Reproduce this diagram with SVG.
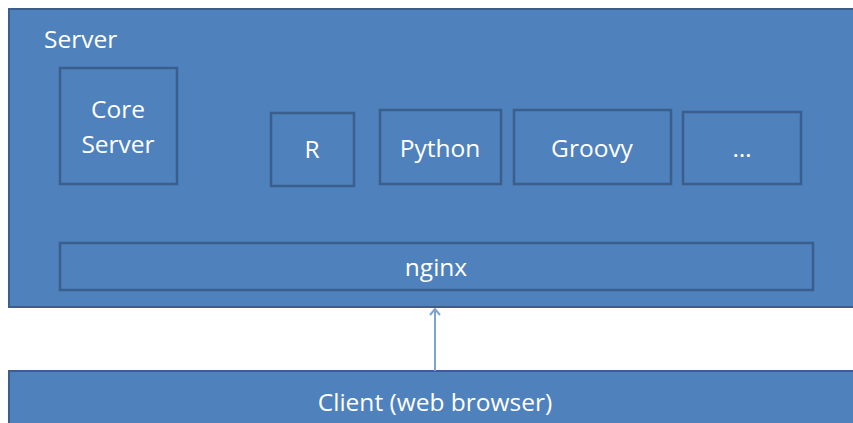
<svg xmlns="http://www.w3.org/2000/svg" width="853" height="423" viewBox="0 0 853 423">
<defs>
<style>
.box{fill:#4f81bd;stroke:#3a5f8c;stroke-width:2.5}
.outer{fill:#4f81bd;stroke:#3a5f8c;stroke-width:2}
.t{font-family:"Open Sans","Liberation Sans",sans-serif;font-size:24.5px;fill:#ffffff;text-anchor:middle}
.conn{stroke:#7aa3d6;stroke-width:2;fill:none}
</style>
<marker id="open" viewBox="0 0 12 12" refX="11" refY="6" markerWidth="12" markerHeight="12" markerUnits="userSpaceOnUse" orient="auto">
<path d="M5,1 L11,6 L5,11" fill="none" stroke="#7aa3d6" stroke-width="2"/>
</marker>
</defs>
<rect width="853" height="423" fill="#ffffff"/>
<g id="server">
<rect class="outer" x="9" y="9" width="850" height="298"/>
<text class="t" x="44" y="48" style="text-anchor:start">Server</text>
</g>
<g id="core-server">
<rect class="box" x="60" y="68" width="117" height="116"/>
<text class="t" x="118" y="118">Core</text>
<text class="t" x="118" y="153">Server</text>
</g>
<g id="r">
<rect class="box" x="271" y="113" width="83" height="73"/>
<text class="t" x="312" y="158">R</text>
</g>
<g id="python">
<rect class="box" x="380" y="110" width="121" height="74"/>
<text class="t" x="440" y="157">Python</text>
</g>
<g id="groovy">
<rect class="box" x="514" y="110" width="157" height="74"/>
<text class="t" x="592" y="157">Groovy</text>
</g>
<g id="more">
<rect class="box" x="683" y="112" width="118" height="72"/>
<text class="t" x="742" y="157">…</text>
</g>
<g id="nginx">
<rect class="box" x="60" y="243" width="753" height="47"/>
<text class="t" x="436" y="276">nginx</text>
</g>
<g id="client">
<rect class="outer" x="9" y="371" width="850" height="60"/>
<text class="t" x="435" y="411">Client (web browser)</text>
</g>
<g id="connectors">
<line class="conn" x1="435" y1="371" x2="435" y2="309" marker-end="url(#open)"/>
</g>
</svg>
